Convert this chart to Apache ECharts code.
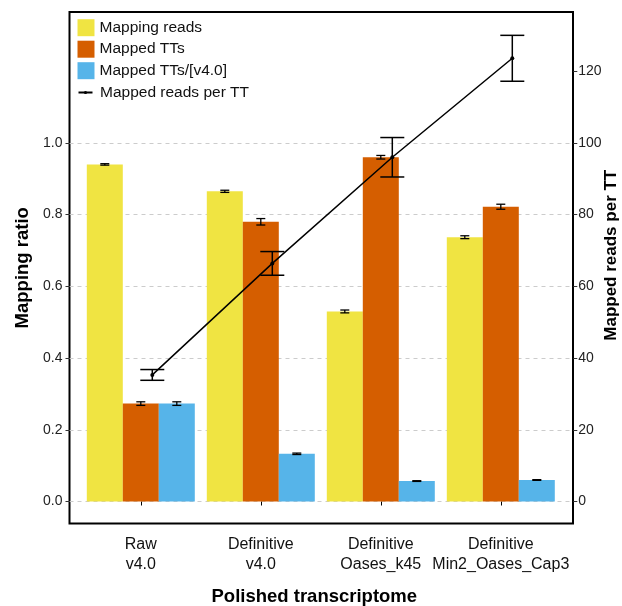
<!DOCTYPE html>
<html><head><meta charset="utf-8">
<script src="https://cdn.jsdelivr.net/npm/echarts@6/dist/echarts.min.js"></script>
<style>html,body{margin:0;padding:0;background:#fff;overflow:hidden}#c{width:622px;height:606px}</style>
</head><body><div id="c"></div>
<script>
// ---- data ----
const categories = ['Raw\nv4.0', 'Definitive\nv4.0', 'Definitive\nOases_k45', 'Definitive\nMin2_Oases_Cap3'];
const seriesNames = ['Mapping reads', 'Mapped TTs', 'Mapped TTs/[v4.0]', 'Mapped reads per TT'];
const mappingReads = [0.940, 0.865, 0.530, 0.737];
const mappingReadsErr = [0.002, 0.003, 0.004, 0.004];
const mappedTTs = [0.273, 0.780, 0.960, 0.822];
const mappedTTsErr = [0.005, 0.009, 0.005, 0.007];
const mappedTTsV4 = [0.273, 0.133, 0.057, 0.060];
const mappedTTsV4Err = [0.005, 0.002, 0.001, 0.001];
const readsPerTT = [35.3, 66.4, 96.0, 123.6];
const readsPerTTErr = [1.5, 3.3, 5.5, 6.4];
const leftAxisMin = 0, leftAxisMax = 1.0, leftAxisStep = 0.2;
const rightAxisMin = 0, rightAxisMax = 120, rightAxisStep = 20;

// ---- style ----
const FONT = 'Liberation Sans, Arial, Helvetica, sans-serif';
const colors = ['#F0E442', '#D55E00', '#56B4E9'];
const CAT_GAP = 0.1;
const barSets = [
  [mappingReads, mappingReadsErr],
  [mappedTTs, mappedTTsErr],
  [mappedTTsV4, mappedTTsV4Err]
];

function errRender(pos, n, capW, lw) {
  return function (params, api) {
    const x = api.value(0), v = api.value(1), e = api.value(2);
    const band = api.size([1, 0])[0];
    const bw = band * (1 - CAT_GAP) / n;
    const cx = api.coord([x, v])[0] + (n > 1 ? (pos - (n - 1) / 2) * bw : 0);
    const top = api.coord([x, v + e])[1];
    const bot = api.coord([x, v - e])[1];
    const hw = capW / 2;
    const st = { stroke: '#000', lineWidth: lw };
    return { type: 'group', children: [
      { type: 'line', shape: { x1: cx, y1: top, x2: cx, y2: bot }, style: st },
      { type: 'line', shape: { x1: cx - hw, y1: top, x2: cx + hw, y2: top }, style: st },
      { type: 'line', shape: { x1: cx - hw, y1: bot, x2: cx + hw, y2: bot }, style: st }
    ]};
  };
}

const series = [];
barSets.forEach((s, i) => {
  series.push({
    name: seriesNames[i], type: 'bar', xAxisIndex: 0, yAxisIndex: 0,
    data: s[0], barGap: '0%', barCategoryGap: (CAT_GAP * 100) + '%',
    itemStyle: { color: colors[i] }, z: 2
  });
});
barSets.forEach((s, i) => {
  series.push({
    type: 'custom', xAxisIndex: 0, yAxisIndex: 0, clip: false, z: 3, silent: true,
    renderItem: errRender(i, barSets.length, 9, 1.3),
    data: s[0].map((v, k) => [k, v, s[1][k]])
  });
});
series.push({
  name: seriesNames[3], type: 'line', xAxisIndex: 1, yAxisIndex: 1, clip: false,
  data: readsPerTT, symbol: 'circle', symbolSize: 4, showSymbol: true,
  itemStyle: { color: '#000' }, lineStyle: { color: '#000', width: 1.5 }, z: 5
});
series.push({
  type: 'custom', xAxisIndex: 1, yAxisIndex: 1, clip: false, z: 5, silent: true,
  renderItem: errRender(0, 1, 24, 1.5),
  data: readsPerTT.map((v, k) => [k, v, readsPerTTErr[k]])
});

const gridBase = { outerBoundsMode: 'none', containLabel: false };
const option = {
  animation: false,
  backgroundColor: '#fff',
  textStyle: { fontFamily: FONT },
  legend: [
    {
      orient: 'vertical', left: 72.5, top: 14.2, itemWidth: 17, itemHeight: 17, itemGap: 4.5,
      textStyle: { fontSize: 15.5, lineHeight: 17, color: '#111', fontFamily: FONT },
      data: [
        { name: seriesNames[0], icon: 'rect' },
        { name: seriesNames[1], icon: 'rect' },
        { name: seriesNames[2], icon: 'rect' }
      ]
    },
    {
      orient: 'vertical', left: 72.5, top: 79, itemWidth: 14, itemHeight: 4,
      textStyle: { fontSize: 15.5, lineHeight: 17, color: '#111', fontFamily: FONT, padding: [0, 0, 0, 2.5] },
      data: [{ name: seriesNames[3] }]
    }
  ],
  grid: [
    Object.assign({ left: 80.8, right: 61.2, top: 142.9, bottom: 104.5 }, gridBase),
    Object.assign({ left: 92.3, right: 49.7, top: 71.2, bottom: 104.5 }, gridBase),
    Object.assign({ left: 69.5, right: 49, top: 12, bottom: 82.5, show: true, borderColor: '#000', borderWidth: 2, backgroundColor: 'transparent' }, gridBase),
    Object.assign({ left: 69.5, right: 49, top: 142.9, bottom: 104.5 }, gridBase)
  ],
  xAxis: [
    { type: 'category', gridIndex: 0, data: categories, offset: 22,
      axisLine: { show: false },
      axisTick: { show: true, alignWithLabel: true, length: 4, lineStyle: { color: '#000' } },
      axisLabel: { fontSize: 16, lineHeight: 20, color: '#111', margin: 11, interval: 0, fontFamily: FONT },
      name: 'Polished transcriptome', nameLocation: 'middle', nameGap: 64,
      nameTextStyle: { fontSize: 18.5, fontWeight: 'bold', color: '#000', fontFamily: FONT, padding: [0, 13, 0, 0] }
    },
    { type: 'category', gridIndex: 1, data: categories, show: false },
    { type: 'value', gridIndex: 2, show: false },
    { type: 'value', gridIndex: 3, show: false }
  ],
  yAxis: [
    { type: 'value', gridIndex: 0, min: leftAxisMin, max: leftAxisMax, interval: leftAxisStep, show: false, splitLine: { show: false } },
    { type: 'value', gridIndex: 1, position: 'right', offset: 1,
      min: rightAxisMin, max: rightAxisMax, interval: rightAxisStep,
      axisLine: { show: false },
      axisTick: { show: true, length: 4, lineStyle: { color: '#333' } },
      axisLabel: { fontSize: 14, color: '#222', margin: 5, fontFamily: FONT },
      splitLine: { show: false }
    },
    { type: 'value', gridIndex: 2, position: 'left', min: 0, max: 1,
      axisLine: { show: false }, axisTick: { show: false }, axisLabel: { show: false }, splitLine: { show: false },
      name: 'Mapping ratio', nameLocation: 'middle', nameRotate: 90, nameGap: 37,
      nameTextStyle: { fontSize: 18.5, fontWeight: 'bold', color: '#000', fontFamily: FONT }
    },
    { type: 'value', gridIndex: 2, position: 'right', min: 0, max: 1,
      axisLine: { show: false }, axisTick: { show: false }, axisLabel: { show: false }, splitLine: { show: false },
      name: 'Mapped reads per TT', nameLocation: 'middle', nameRotate: 90, nameGap: 30,
      nameTextStyle: { fontSize: 17, fontWeight: 'bold', color: '#000', fontFamily: FONT, padding: [0, 0, 0, 25] }
    },
    { type: 'value', gridIndex: 3, position: 'left', min: leftAxisMin, max: leftAxisMax, interval: leftAxisStep,
      axisLine: { show: false },
      axisTick: { show: true, length: 4, lineStyle: { color: '#333' } },
      axisLabel: { fontSize: 14, color: '#222', margin: 7, fontFamily: FONT, formatter: v => v.toFixed(1) },
      splitLine: { show: true, lineStyle: { color: '#cccccc', type: [4, 4], width: 1 } }
    }
  ],
  series: series
};
const chart = echarts.init(document.getElementById('c'), null, { renderer: 'canvas' });
chart.setOption(option);
</script>
</body></html>
